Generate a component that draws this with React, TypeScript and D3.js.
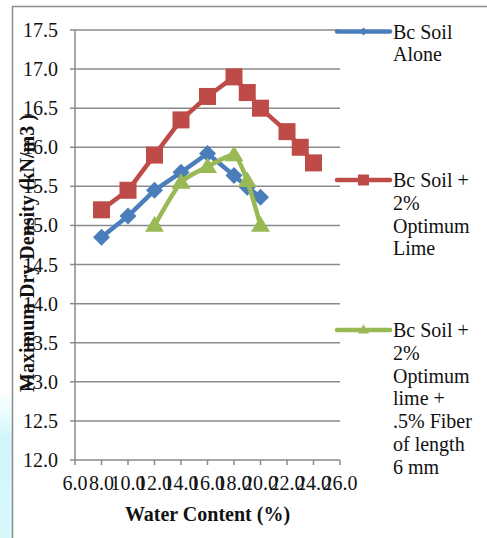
import React from "react";
import * as d3 from "d3";

const xTicks = [6, 8, 10, 12, 14, 16, 18, 20, 22, 24, 26];
const yTicks = [12.0, 12.5, 13.0, 13.5, 14.0, 14.5, 15.0, 15.5, 16.0, 16.5, 17.0, 17.5];

const soilX = [8, 10, 12, 14, 16, 18, 19, 20];
const soilY = [14.85, 15.12, 15.45, 15.68, 15.92, 15.64, 15.49, 15.36];

const limeX = [8, 10, 12, 14, 16, 18, 19, 20, 22, 23, 24];
const limeY = [15.2, 15.45, 15.9, 16.35, 16.65, 16.9, 16.7, 16.5, 16.2, 16.0, 15.8];

const fiberX = [12, 14, 16, 18, 19, 20];
const fiberY = [15.0, 15.55, 15.75, 15.9, 15.57, 15.0];

const seriesNames = ["Bc Soil Alone", "Bc Soil + 2% Optimum Lime", "Bc Soil + 2% Optimum lime + .5% Fiber of length 6 mm"];
const legendLines = [
  ["Bc Soil", "Alone"],
  ["Bc Soil +", "2%", "Optimum", "Lime"],
  ["Bc Soil +", "2%", "Optimum", "lime +", ".5% Fiber", "of length", "6 mm"],
];

const W = 487;
const H = 538;
const FONT = "Liberation Serif, Times New Roman, serif";
const GRID = "#8a8a8a";

function marker(type: string, x: number, y: number, s: number, color: string, key: string) {
  if (type === "diamond") {
    const r = s / 2;
    return <path key={key} d={`M${x},${y - r}L${x + r},${y}L${x},${y + r}L${x - r},${y}Z`} fill={color} />;
  }
  if (type === "square") {
    return <rect key={key} x={x - s / 2} y={y - s / 2} width={s} height={s} fill={color} />;
  }
  const h = s * 0.82;
  return <path key={key} d={`M${x},${y - h * 0.6}L${x + s / 2},${y + h * 0.4}L${x - s / 2},${y + h * 0.4}Z`} fill={color} />;
}

export default function App() {
  const x = d3.scaleLinear().domain([6, 26]).range([75, 340]);
  const y = d3.scaleLinear().domain([12, 17.5]).range([460, 30]);

  const series = [
    { name: seriesNames[0], xs: soilX, ys: soilY, color: "#4A7EBB", marker: "diamond", size: 17, curve: d3.curveLinear, legendSize: 8, legendY: 31.5 },
    { name: seriesNames[1], xs: limeX, ys: limeY, color: "#BE4B48", marker: "square", size: 17, curve: d3.curveLinear, legendSize: 11, legendY: 180 },
    { name: seriesNames[2], xs: fiberX, ys: fiberY, color: "#98B954", marker: "triangle", size: 19, curve: d3.curveCardinal.tension(0.3), legendSize: 11, legendY: 330 },
  ];

  return (
    <div style={{ position: "absolute", left: 0, top: 0 }}>
      <svg width={W} height={H} style={{ display: "block", fontFamily: FONT }}>
        <defs>
          <linearGradient id="cy" x1="0" y1="0" x2="0" y2="1">
            <stop offset="0" stopColor="#e9fbfd" stopOpacity="0.3" />
            <stop offset="0.3" stopColor="#d2f6fb" />
            <stop offset="1" stopColor="#d9f8fc" />
          </linearGradient>
        </defs>
        <rect x={0} y={0} width={W} height={H} fill="#fff" />
        <rect x={0} y={395} width={12} height={H - 395} fill="url(#cy)" />
        <line x1={12.5} y1={6} x2={12.5} y2={H} stroke="#8c8c8c" strokeWidth={1.5} />
        <line x1={12} y1={6.5} x2={W} y2={6.5} stroke="#8c8c8c" strokeWidth={1.5} />

        {yTicks.map((t) => (
          <g key={"y" + t}>
            <line x1={x(6)} x2={x(26)} y1={y(t)} y2={y(t)} stroke={GRID} strokeWidth={1.5} />
            <line x1={x(6) - 5} x2={x(6)} y1={y(t)} y2={y(t)} stroke={GRID} strokeWidth={1.5} />
            <text x={58} y={y(t)} textAnchor="end" dominantBaseline="central" fontSize={20} fill="#111">
              {t.toFixed(1)}
            </text>
          </g>
        ))}
        <line x1={x(6)} x2={x(6)} y1={y(17.5)} y2={y(12)} stroke={GRID} strokeWidth={1.5} />
        {xTicks.map((t) => (
          <g key={"x" + t}>
            <line x1={x(t)} x2={x(t)} y1={y(12)} y2={y(12) + 5} stroke={GRID} strokeWidth={1.5} />
            <text x={x(t)} y={490} textAnchor="middle" fontSize={20} fill="#111">
              {t.toFixed(1)}
            </text>
          </g>
        ))}

        {series.map((s) => {
          const pts: [number, number][] = s.xs.map((v, i) => [x(v), y(s.ys[i])]);
          const path = d3.line().curve(s.curve)(pts) || "";
          return (
            <g key={s.name}>
              <path d={path} fill="none" stroke={s.color} strokeWidth={4.5} strokeLinejoin="round" />
              {pts.map((p, i) => marker(s.marker, p[0], p[1], s.size, s.color, s.name + i))}
            </g>
          );
        })}

        {series.map((s, si) => (
          <g key={"lg" + si}>
            <line x1={337} x2={390} y1={s.legendY} y2={s.legendY} stroke={s.color} strokeWidth={4.5} strokeLinecap="round" />
            {marker(s.marker, 363.5, s.legendY, s.legendSize, s.color, "lm" + si)}
            <text x={393} y={s.legendY + 7} fontSize={20} fill="#111">
              {legendLines[si].map((ln, li) => (
                <tspan key={li} x={393} dy={li === 0 ? 0 : 22.8}>
                  {ln}
                </tspan>
              ))}
            </text>
          </g>
        ))}

        <text x={207.5} y={521} textAnchor="middle" fontWeight="bold" fontSize={20} fill="#111">
          Water Content (%)
        </text>
        <text transform="translate(34,253) rotate(-90)" textAnchor="middle" fontWeight="bold" fontSize={20} fill="#111">
          Maximum Dry Density (kN/m3 )
        </text>
      </svg>
    </div>
  );
}
